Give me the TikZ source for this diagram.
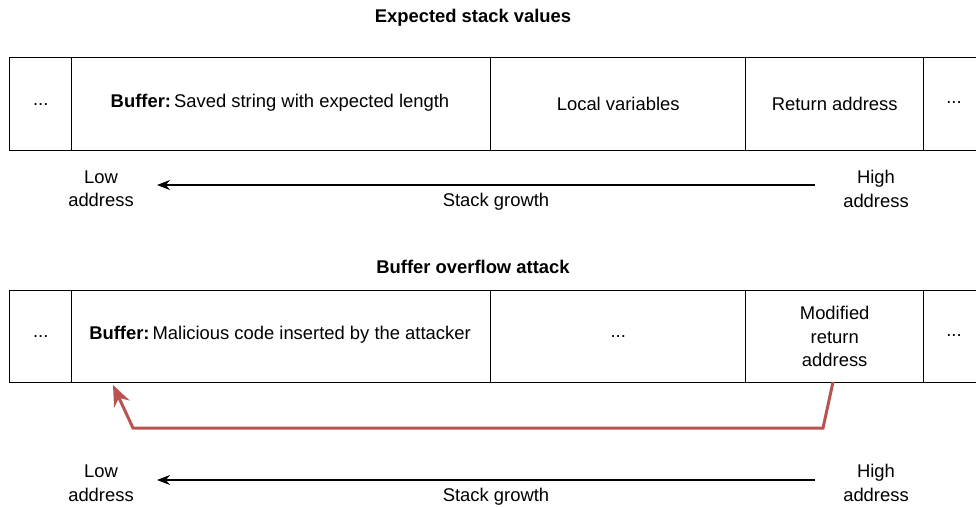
\documentclass[tikz,border=0pt]{standalone}
\usepackage{fontspec}
\setmainfont{Liberation Sans}
\usetikzlibrary{arrows.meta}
\definecolor{attackred}{RGB}{184,84,80}
\begin{document}
\begin{tikzpicture}[x=1pt,y=-1pt,
  cell/.style={draw=black,line width=1.4pt,inner sep=0pt,anchor=north west},
  lbl/.style={font=\fontsize{18.4}{23.5}\selectfont,align=center,inner sep=0pt},
  title/.style={font=\fontsize{18.4}{22}\selectfont\bfseries,inner sep=0pt},
  growth/.style={draw=black,line width=1.4pt,-{Stealth[length=13pt,width=10pt]}},
  attack/.style={draw=attackred,line width=3pt,-{Stealth[length=21pt,width=17pt]}}
]
\useasboundingbox (0,0) rectangle (976,507);

% ---- upper row: expected layout ----
\node[title] (t1) at (473,18) {Expected stack values};
\node[cell,minimum width=62pt,minimum height=93pt] (a1) at (9,57) {};
\node[cell,minimum width=419pt,minimum height=93pt] (a2) at (71,57) {};
\node[cell,minimum width=255pt,minimum height=93pt] (a3) at (490,57) {};
\node[cell,minimum width=178pt,minimum height=93pt] (a4) at (745,57) {};
\node[cell,minimum width=70pt,minimum height=93pt] (a5) at (923,57) {};
\node[lbl] at (a1.center) {...};
\node[lbl] at (280,103) {\textbf{Buffer:}\,Saved string with expected length};
\node[lbl] at (a3.center) {Local variables};
\node[lbl] at (a4.center) {Return address};
\node[lbl] at (954,103) {...};

\node[lbl] (lo1) at (101,189) {Low\\address};
\node[lbl] (hi1) at (876,189) {High\\address};
\coordinate (g1s) at (815,185);
\coordinate (g1e) at (157,185);
\draw[growth] (g1s) -- (g1e);
\node[lbl] (sg1) at (496,202) {Stack growth};

% ---- lower row: overflowed layout ----
\node[title] (t2) at (473,267) {Buffer overflow attack};
\node[cell,minimum width=62pt,minimum height=92pt] (b1) at (9,290) {};
\node[cell,minimum width=419pt,minimum height=92pt] (b2) at (71,290) {};
\node[cell,minimum width=255pt,minimum height=92pt] (b3) at (490,290) {};
\node[cell,minimum width=178pt,minimum height=92pt] (b4) at (745,290) {};
\node[cell,minimum width=70pt,minimum height=92pt] (b5) at (923,290) {};
\node[lbl] at (b1.center) {...};
\node[lbl] at (280,335) {\textbf{Buffer:}\,Malicious code inserted by the attacker};
\node[lbl] at (b3.center) {...};
\node[lbl] at (b4.center) {Modified\\return\\address};
\node[lbl] at (954,336) {...};

% overwritten return address points back into the buffer
\coordinate (r0) at (833,382);
\coordinate (r1) at (823,428);
\coordinate (r2) at (133,428);
\coordinate (r3) at (113,385);
\draw[attack] (r0) -- (r1) -- (r2) -- (r3);

\node[lbl] (lo2) at (101,483) {Low\\address};
\node[lbl] (hi2) at (876,483) {High\\address};
\coordinate (g2s) at (815,480);
\coordinate (g2e) at (157,480);
\draw[growth] (g2s) -- (g2e);
\node[lbl] (sg2) at (496,497) {Stack growth};
\end{tikzpicture}
\end{document}
